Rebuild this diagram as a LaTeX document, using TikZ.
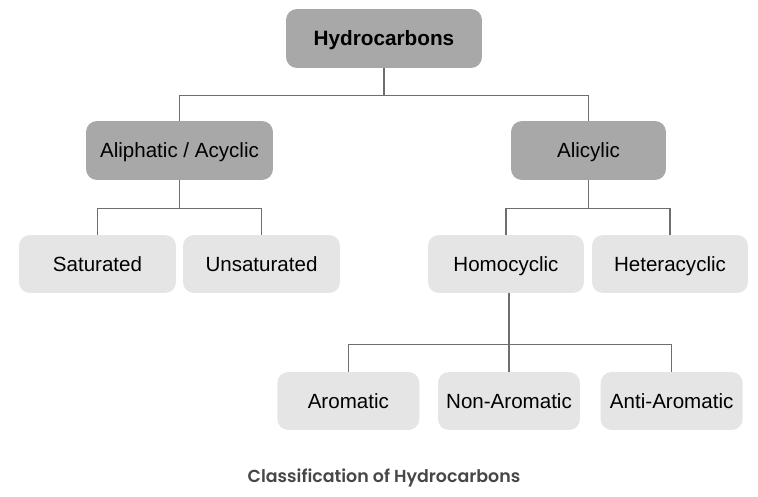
\documentclass[tikz,border=0pt]{standalone}
\usepackage{fontspec}
\setmainfont{Liberation Sans}
\IfFontExistsTF{Poppins SemiBold}{\newfontfamily\capfont{Poppins SemiBold}}{\newfontfamily\capfont{Poppins}[UprightFont=*-Bold]}
\usepackage{tikz}
\usetikzlibrary{positioning}
\definecolor{darkgrey}{HTML}{A8A8A8}
\definecolor{lightgrey}{HTML}{E5E5E5}
\definecolor{linegrey}{HTML}{6E6E6E}
\definecolor{capgrey}{HTML}{474747}
\tikzstyle{darkbox} = [rectangle, rounded corners=0.22cm, minimum height=1.18cm, text centered, text height=8.6pt, text depth=0.3pt, fill=darkgrey, font=\fontsize{11.7}{14}\selectfont]
\tikzstyle{lightbox} = [rectangle, rounded corners=0.22cm, minimum height=1.16cm, text centered, text height=8.6pt, text depth=0.3pt, fill=lightgrey, font=\fontsize{11.7}{14}\selectfont]
\tikzstyle{link} = [draw=linegrey, line width=0.7pt]

\begin{document}
\begin{tikzpicture}[x=0.02cm, y=-0.02cm]
        \useasboundingbox [fill=white] (0,0) rectangle (758,497);
        \node (top) [darkbox, minimum width=3.92cm, font=\fontsize{11.8}{14}\selectfont\bfseries] at (384,38.5) {Hydrocarbons};
        \node (aliph) [darkbox, minimum width=3.74cm] at (179.5,150.5) {Aliphatic / Acyclic};
        \node (alic) [darkbox, minimum width=3.1cm] at (588.5,150.5) {Alicylic};
        \node (sat) [lightbox, minimum width=3.14cm] at (97.5,264) {Saturated};
        \node (unsat) [lightbox, minimum width=3.14cm] at (261.5,264) {Unsaturated};
        \node (homo) [lightbox, minimum width=3.12cm] at (506,264) {Homocyclic};
        \node (hetero) [lightbox, minimum width=3.12cm] at (670,264) {Heteracyclic};
        \node (nonarom) [lightbox, minimum width=2.84cm] at (509,401) {Non-Aromatic};
        \node (arom) [lightbox, minimum width=2.84cm, left=0.36cm of nonarom] {Aromatic};
        \node (antiarom) [lightbox, minimum width=2.84cm, right=0.4cm of nonarom] {Anti-Aromatic};
        \node (caption) [font=\capfont\fontsize{9.9}{12}\selectfont, text=capgrey] at (384,478) {Classification of Hydrocarbons};

        \draw [link] (top.south) -- ++(0,27) coordinate (j1);
        \draw [link] (aliph.north) |- (j1) -| (alic.north);
        \draw [link] (aliph.south) -- ++(0,28) coordinate (j2);
        \draw [link] (sat.north) |- (j2) -| (unsat.north);
        \draw [link] (alic.south) -- ++(0,28) coordinate (j3);
        \draw [link] (homo.north) |- (j3) -| (hetero.north);
        \draw [link] (nonarom.north) -- ++(0,-27) coordinate (j4) -- (nonarom.north |- homo.south);
        \draw [link] (arom.north) |- (j4) -| (antiarom.north);
    \end{tikzpicture}
\end{document}
